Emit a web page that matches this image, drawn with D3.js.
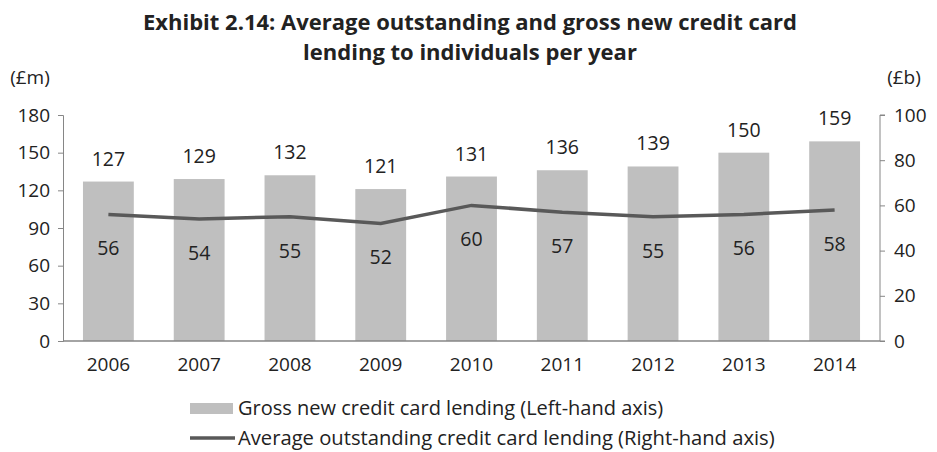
<!DOCTYPE html>
<html>
<head>
<meta charset="utf-8">
<script src="https://cdn.jsdelivr.net/npm/d3@7"></script>
<style>
  body { margin: 0; background: #fff; }
  svg { display: block; }
  text { font-family: "Open Sans", sans-serif; fill: #222; }
</style>
</head>
<body>
<svg id="chart" width="937" height="452"></svg>
<script>
const years = ["2006", "2007", "2008", "2009", "2010", "2011", "2012", "2013", "2014"];
const grossLending = [127, 129, 132, 121, 131, 136, 139, 150, 159];      // £m, left axis
const avgOutstanding = [56, 54, 55, 52, 60, 57, 55, 56, 58];            // £b, right axis
const leftTicks = [0, 30, 60, 90, 120, 150, 180];
const rightTicks = [0, 20, 40, 60, 80, 100];

const FONT = "'Open Sans', sans-serif";
const svg = d3.select("#chart");
const m = { left: 63, right: 880, top: 115, bottom: 341 };

const x = d3.scaleBand().domain(years).range([m.left, m.right]).paddingInner(0.44).paddingOuter(0.22);
const yL = d3.scaleLinear().domain([0, 180]).range([m.bottom, m.top]);
const yR = d3.scaleLinear().domain([0, 100]).range([m.bottom, m.top]);

// title
svg.append("text").attr("x", 470).attr("y", 30).attr("text-anchor", "middle")
  .style("font-size", "22px").style("font-weight", "bold")
  .text("Exhibit 2.14: Average outstanding and gross new credit card");
svg.append("text").attr("x", 470).attr("y", 60).attr("text-anchor", "middle")
  .style("font-size", "22px").style("font-weight", "bold")
  .text("lending to individuals per year");

// unit labels
svg.append("text").attr("x", 30).attr("y", 84).attr("text-anchor", "middle").style("font-size", "19px").text("(£m)");
svg.append("text").attr("x", 904).attr("y", 84).attr("text-anchor", "middle").style("font-size", "19px").text("(£b)");

// bars
svg.append("g").selectAll("rect").data(years).join("rect")
  .attr("x", d => x(d)).attr("width", x.bandwidth())
  .attr("y", (d, i) => yL(grossLending[i]))
  .attr("height", (d, i) => yL(0) - yL(grossLending[i]))
  .attr("fill", "#bfbfbf");

// axes
const axisColor = "#868686";
const gl = svg.append("g").attr("transform", `translate(${m.left},0)`)
  .call(d3.axisLeft(yL).tickValues(leftTicks).tickSize(5).tickPadding(8));
const gr = svg.append("g").attr("transform", `translate(${m.right},0)`)
  .call(d3.axisRight(yR).tickValues(rightTicks).tickSize(5).tickPadding(9));
[gl, gr].forEach(g => {
  g.select(".domain").attr("stroke", axisColor);
  g.selectAll(".tick line").attr("stroke", axisColor);
  g.selectAll(".tick text").style("font-size", "19px").style("font-family", FONT).attr("fill", "#222");
});
gr.select(".domain").attr("d", `M5,${m.top}H0V${m.bottom}H5`);

const gx = svg.append("g").attr("transform", `translate(0,${m.bottom})`)
  .call(d3.axisBottom(x).tickSize(0).tickPadding(17));
gx.select(".domain").attr("stroke", axisColor).attr("stroke-width", 1.5).attr("d", `M${m.left},0H${m.right}`);
gx.selectAll(".tick text").style("font-size", "19px").style("font-family", FONT).attr("fill", "#222");

// line
const line = d3.line().x((d, i) => x(years[i]) + x.bandwidth() / 2).y(d => yR(d));
svg.append("path").datum(avgOutstanding).attr("d", line)
  .attr("fill", "none").attr("stroke", "#595959").attr("stroke-width", 3.5);

// value labels
svg.append("g").selectAll("text").data(grossLending).join("text")
  .attr("x", (d, i) => x(years[i]) + x.bandwidth() / 2)
  .attr("y", d => yL(d) - 16)
  .attr("text-anchor", "middle").style("font-size", "19.5px").text(d => d);
svg.append("g").selectAll("text").data(avgOutstanding).join("text")
  .attr("x", (d, i) => x(years[i]) + x.bandwidth() / 2)
  .attr("y", d => yR(d) + 41)
  .attr("text-anchor", "middle").style("font-size", "19.5px").text(d => d);

// legend
const lg = svg.append("g");
lg.append("rect").attr("x", 190).attr("y", 403).attr("width", 43).attr("height", 11).attr("fill", "#bfbfbf");
lg.append("text").attr("x", 238).attr("y", 415).style("font-size", "20px").text("Gross new credit card lending (Left-hand axis)");
lg.append("line").attr("x1", 190).attr("x2", 235).attr("y1", 438).attr("y2", 438).attr("stroke", "#595959").attr("stroke-width", 3.5);
lg.append("text").attr("x", 238).attr("y", 445).style("font-size", "20.2px").text("Average outstanding credit card lending (Right-hand axis)");
</script>
</body>
</html>
